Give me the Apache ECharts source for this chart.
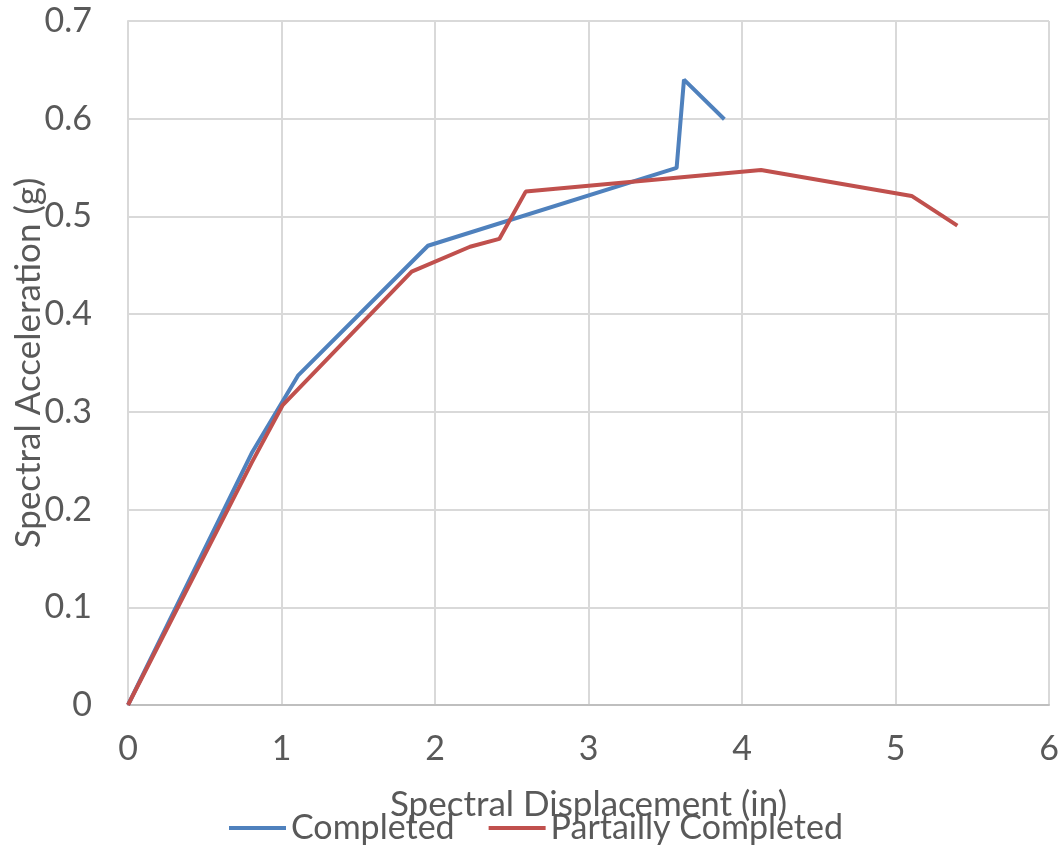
<!DOCTYPE html>
<html><head><meta charset="utf-8">
<script src="https://cdn.jsdelivr.net/npm/echarts@6/dist/echarts.min.js"></script>
<style>html,body{margin:0;padding:0;background:#fff}#c{width:1063px;height:851px}</style>
</head><body><div id="c"></div>
<script>
const completedX = [0, 0.81, 1.107, 1.954, 3.574, 3.622, 3.885];
const completedY = [0, 0.259, 0.337, 0.470, 0.5496, 0.640, 0.5995];
const partialX = [0, 0.806, 1.008, 1.848, 2.228, 2.419, 2.591, 4.124, 5.105, 5.403];
const partialY = [0, 0.248, 0.307, 0.4435, 0.469, 0.477, 0.5254, 0.5476, 0.521, 0.4906];
const seriesNames = ['Completed', 'Partailly Completed'];
const xTicks = {min: 0, max: 6, interval: 1};
const yTicks = {min: 0, max: 0.7, interval: 0.1};

const font = 'Lato, "Open Sans", sans-serif';
const txt = '#595959';
const chart = echarts.init(document.getElementById('c'));
chart.setOption({
  animation: false,
  textStyle: {fontFamily: font},
  grid: {left: 128, right: 14, top: 21, bottom: 146, containLabel: false, outerBoundsMode: 'none'},
  legend: {
    data: seriesNames, bottom: 1, left: 224, itemWidth: 57, itemHeight: 4, itemGap: 34,
    icon: 'rect',
    textStyle: {fontSize: 34, color: txt, fontFamily: font}
  },
  xAxis: {
    type: 'value', min: xTicks.min, max: xTicks.max, interval: xTicks.interval,
    name: 'Spectral Displacement (in)', nameLocation: 'middle', nameGap: 82, nameMoveOverlap: false,
    nameTextStyle: {fontSize: 35, color: txt, fontFamily: font},
    axisLine: {show: true, lineStyle: {color: '#bfbfbf', width: 2}},
    axisTick: {show: false},
    axisLabel: {fontSize: 34, color: txt, margin: 27, fontFamily: font},
    splitLine: {show: true, lineStyle: {color: '#d9d9d9', width: 2}}
  },
  yAxis: {
    type: 'value', min: yTicks.min, max: yTicks.max, interval: yTicks.interval,
    name: 'Spectral Acceleration (g)', nameLocation: 'middle', nameGap: 82, nameMoveOverlap: false,
    nameTextStyle: {fontSize: 35, color: txt, fontFamily: font},
    axisLine: {show: true, lineStyle: {color: '#d9d9d9', width: 2}},
    axisTick: {show: false},
    axisLabel: {fontSize: 34, color: txt, margin: 36, fontFamily: font,
      formatter: v => String(Math.round(v * 10) / 10)},
    splitLine: {show: true, lineStyle: {color: '#d9d9d9', width: 2}}
  },
  series: [
    {name: seriesNames[0], type: 'line', showSymbol: false, symbol: 'none',
     lineStyle: {color: '#4F81BD', width: 4}, itemStyle: {color: '#4F81BD'},
     data: completedX.map((x, i) => [x, completedY[i]])},
    {name: seriesNames[1], type: 'line', showSymbol: false, symbol: 'none',
     lineStyle: {color: '#C0504D', width: 4}, itemStyle: {color: '#C0504D'},
     data: partialX.map((x, i) => [x, partialY[i]])}
  ]
});
</script></body></html>
